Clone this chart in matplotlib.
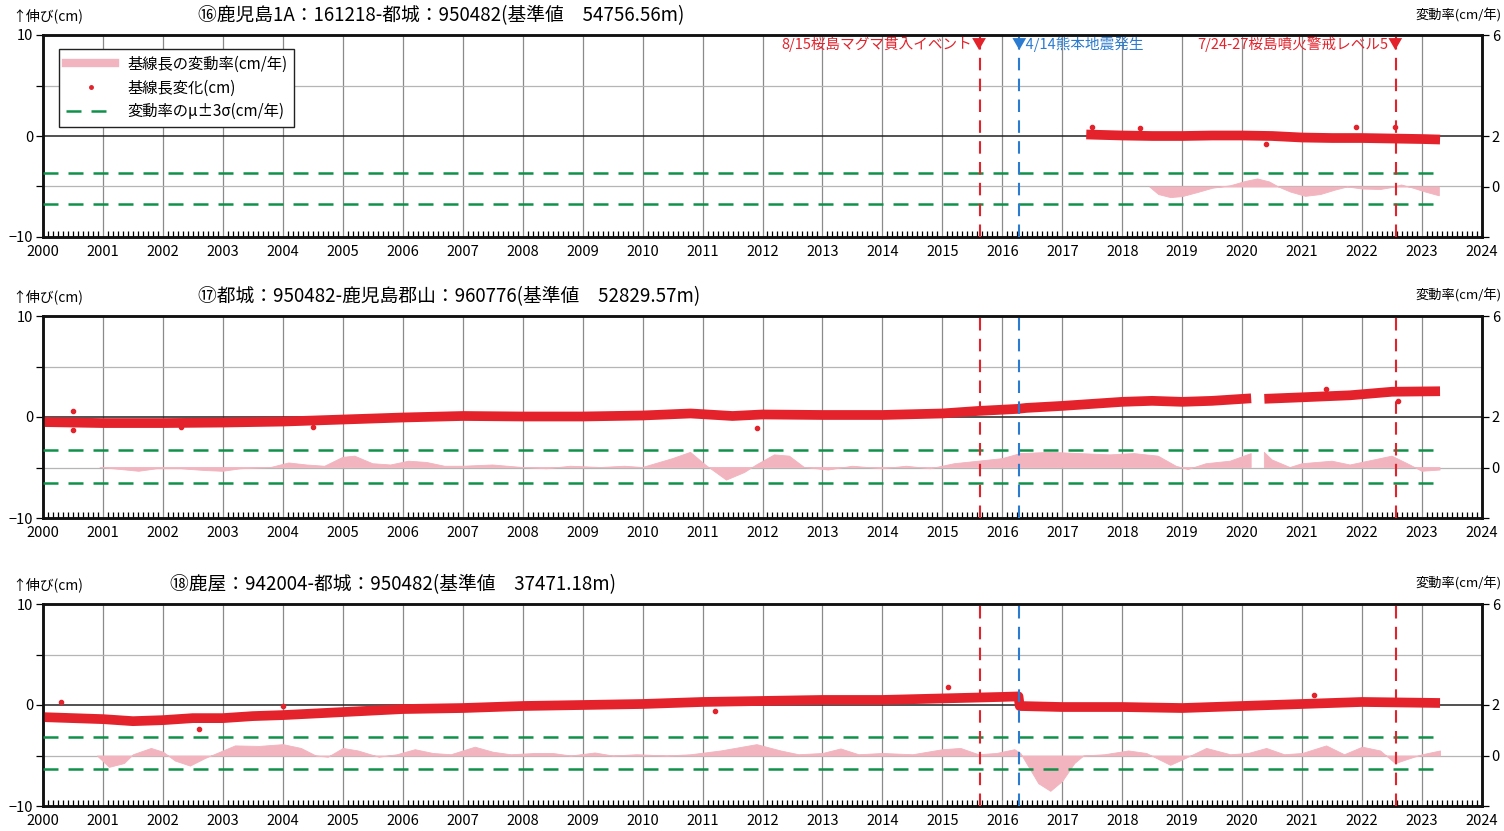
import numpy as np
import matplotlib
matplotlib.use("Agg")
import matplotlib.pyplot as plt
from matplotlib.lines import Line2D
from matplotlib.ticker import MultipleLocator
import matplotlib.transforms as mtransforms

plt.rcParams['font.family'] = ['Noto Sans CJK JP', 'DejaVu Sans']

# ---- data ----
years = list(range(2000, 2025))

# panel 16
p16_title = "⑯鹿児島1A：161218-都城：950482(基準値　54756.56m)"
p16_dot_t = [2017.4, 2017.7, 2018.0, 2018.5, 2019.0, 2019.5, 2020.0, 2020.5, 2021.0, 2021.5, 2022.0, 2022.5, 2023.0, 2023.3]
p16_dot_v = [0.15, 0.1, 0.05, 0.0, 0.0, 0.05, 0.05, 0.0, -0.15, -0.2, -0.2, -0.25, -0.3, -0.35]
p16_out_t = [2017.5, 2018.3, 2021.9, 2022.55, 2020.4]
p16_out_v = [0.9, 0.8, 0.9, 0.9, -0.8]
p16_rate_t = [2018.45, 2018.6, 2018.8, 2019.0, 2019.25, 2019.5, 2019.8, 2020.05, 2020.25, 2020.45, 2020.6, 2020.8,
              2021.05, 2021.3, 2021.55, 2021.75, 2022.0, 2022.3, 2022.5, 2022.65, 2022.85, 2023.05, 2023.28]
p16_rate_v = [0.0, -0.3, -0.42, -0.38, -0.22, -0.05, 0.05, 0.22, 0.32, 0.2, 0.0, -0.2,
              -0.37, -0.3, -0.12, 0.0, -0.08, -0.1, -0.02, 0.08, -0.05, -0.2, -0.35]
p16_sigma = [0.55, -0.7]

# panel 17
p17_title = "⑰都城：950482-鹿児島郡山：960776(基準値　52829.57m)"
p17_dot_t = [2000.0, 2001, 2002, 2003, 2004, 2005, 2006, 2007, 2008, 2009, 2010, 2010.8, 2011.5, 2012, 2013,
             2014, 2015, 2015.6, 2016.25, 2016.4, 2017, 2017.5, 2018, 2018.5, 2019, 2019.5, 2020.15,
             np.nan, 2020.37, 2021, 2021.8, 2022.5, 2023.3]
p17_dot_v = [-0.5, -0.6, -0.6, -0.55, -0.45, -0.25, -0.05, 0.1, 0.05, 0.05, 0.15, 0.35, 0.1, 0.25, 0.2,
             0.2, 0.35, 0.6, 0.8, 0.9, 1.1, 1.3, 1.5, 1.6, 1.5, 1.6, 1.85,
             np.nan, 1.8, 1.95, 2.15, 2.5, 2.55]
p17_out_t = [2000.5, 2000.5, 2002.3, 2004.5, 2011.9, 2021.4, 2022.6]
p17_out_v = [-1.3, 0.6, -1.0, -1.0, -1.1, 2.8, 1.6]
p17_rate_t = [2000.95, 2001.3, 2001.6, 2001.9, 2002.3, 2002.7, 2003.0, 2003.3, 2003.8, 2004.1, 2004.4, 2004.7,
              2005.0, 2005.2, 2005.5, 2005.8, 2006.1, 2006.4, 2006.7, 2007.0, 2007.5, 2008.0, 2008.4, 2008.8,
              2009.3, 2009.7, 2010.0, 2010.5, 2010.8, 2011.05, 2011.4, 2011.7, 2011.9, 2012.2, 2012.45, 2012.7,
              2013.1, 2013.5, 2014.0, 2014.4, 2014.8, 2015.2, 2015.6, 2016.0, 2016.3, 2016.8, 2017.3, 2017.8,
              2018.2, 2018.6, 2018.9, 2019.1, 2019.4, 2019.8, 2020.15, np.nan, 2020.37, 2020.5, 2020.8, 2021.0,
              2021.5, 2021.8, 2022.1, 2022.5, 2022.8, 2023.0, 2023.3]
p17_rate_v = [0.0, -0.08, -0.15, -0.05, -0.05, -0.12, -0.15, -0.05, 0.0, 0.18, 0.1, 0.05,
              0.4, 0.45, 0.15, 0.1, 0.25, 0.2, 0.05, 0.05, 0.1, 0.0, -0.05, 0.05,
              0.0, 0.05, 0.0, 0.35, 0.6, 0.1, -0.5, -0.2, 0.1, 0.5, 0.45, 0.0,
              -0.1, 0.05, -0.05, 0.05, -0.05, 0.15, 0.25, 0.35, 0.55, 0.6, 0.55, 0.5,
              0.55, 0.45, 0.05, -0.08, 0.15, 0.25, 0.55, np.nan, 0.6, 0.3, 0.0, 0.15,
              0.25, 0.1, 0.25, 0.45, 0.1, -0.15, -0.1]
p17_sigma = [0.68, -0.62]

# panel 18
p18_title = "⑱鹿屋：942004-都城：950482(基準値　37471.18m)"
p18_dot_t = [2000.0, 2000.5, 2001.0, 2001.5, 2002.0, 2002.5, 2003.0, 2003.5, 2004.0, 2005.0, 2006.0, 2007.0,
             2008.0, 2009.0, 2010.0, 2011.0, 2012.0, 2013.0, 2014.0, 2015.0, 2016.0, 2016.27,
             2016.29, 2017.0, 2018.0, 2019.0, 2020.0, 2021.0, 2022.0, 2023.3]
p18_dot_v = [-1.2, -1.3, -1.4, -1.6, -1.5, -1.3, -1.3, -1.1, -1.0, -0.7, -0.4, -0.3,
             -0.1, 0.0, 0.1, 0.3, 0.4, 0.5, 0.5, 0.65, 0.8, 0.85,
             -0.1, -0.2, -0.2, -0.3, -0.1, 0.1, 0.3, 0.2]
p18_out_t = [2000.3, 2002.6, 2011.2, 2015.1, 2004.0, 2021.2]
p18_out_v = [0.3, -2.4, -0.6, 1.8, -0.1, 1.0]
p18_rate_t = [2000.9, 2001.1, 2001.35, 2001.5, 2001.8, 2002.0, 2002.2, 2002.45, 2002.7, 2002.9, 2003.2, 2003.6,
              2004.0, 2004.3, 2004.55, 2004.75, 2005.0, 2005.25, 2005.6, 2005.9, 2006.2, 2006.5, 2006.8, 2007.2,
              2007.5, 2007.8, 2008.2, 2008.5, 2008.8, 2009.2, 2009.5, 2009.9, 2010.4, 2010.8, 2011.3, 2011.9,
              2012.3, 2012.6, 2013.0, 2013.3, 2013.6, 2014.0, 2014.5, 2015.0, 2015.3, 2015.6, 2015.9, 2016.2,
              2016.3, 2016.4, 2016.6, 2016.8, 2017.0, 2017.2, 2017.35, 2017.7, 2018.1, 2018.4, 2018.8, 2019.05,
              2019.4, 2019.8, 2020.1, 2020.4, 2020.7, 2021.0, 2021.4, 2021.7, 2022.0, 2022.3, 2022.55, 2022.8,
              2023.0, 2023.3]
p18_rate_v = [0.0, -0.45, -0.3, 0.05, 0.3, 0.15, -0.2, -0.4, -0.1, 0.1, 0.4, 0.38,
              0.45, 0.3, 0.0, -0.05, 0.3, 0.2, -0.05, 0.05, 0.25, 0.1, 0.05, 0.35,
              0.15, 0.05, 0.1, 0.1, 0.0, 0.12, 0.0, 0.05, 0.0, 0.05, 0.2, 0.45,
              0.2, 0.05, 0.1, 0.28, 0.05, 0.1, 0.05, 0.25, 0.3, 0.05, 0.1, 0.25,
              0.1, -0.3, -1.1, -1.4, -1.0, -0.3, 0.0, 0.05, 0.2, 0.1, -0.37, -0.1,
              0.3, 0.05, 0.1, 0.3, 0.05, 0.1, 0.4, 0.05, 0.35, 0.2, -0.3, -0.1,
              0.05, 0.2]
p18_sigma = [0.75, -0.55]

# events
ev_red = [2015.62, 2022.56]
ev_blue = [2016.28]

RED = '#e3222b'
PINK = '#f2b4be'
GREEN = '#10914a'

fig = plt.figure(figsize=(15.04, 8.31), dpi=100)


def panel(top_px, title, title_x, dot_t, dot_v, out_t, out_v, rate_t, rate_v, sigma, legend=False):
    bottom = 1 - (top_px + 202) / 831
    ax = fig.add_axes([43 / 1504, bottom, 1439 / 1504, 202 / 831])
    ax.set_xlim(2000, 2024)
    ax.set_ylim(-10, 10)
    ax2 = ax.twinx()
    ax2.set_ylim(-2, 6)

    # grid
    for y in years:
        ax.axvline(y, color='#8a8a8a', lw=0.9, zorder=0)
    ax.axhline(5, color='#b5b5b5', lw=0.9, zorder=0)
    ax.axhline(-5, color='#b5b5b5', lw=0.9, zorder=0)
    ax.axhline(0, color='#222222', lw=1.1, zorder=1)

    # baseline change
    ax.plot(dot_t, dot_v, color=RED, lw=7, solid_capstyle='butt', solid_joinstyle='round', zorder=3)
    ax.plot(out_t, out_v, 'o', color=RED, ms=3, zorder=3)

    # rate
    ax2.fill_between(rate_t, 0, rate_v, color=PINK, lw=0.6, edgecolor=PINK, zorder=2)
    for s in sigma:
        ax2.plot([2000, 2023.3], [s, s], color=GREEN, lw=1.8, dashes=(6, 4), zorder=3)

    # events
    for x in ev_red:
        ax2.axvline(x, color=RED, lw=1.5, dashes=(6, 4), zorder=4)
    for x in ev_blue:
        ax2.axvline(x, color='#2b7bd0', lw=1.5, dashes=(6, 4), zorder=4)

    # ticks
    ax.set_xticks(years)
    ax.set_xticklabels([str(y) for y in years], fontsize=10.5)
    ax.xaxis.set_minor_locator(MultipleLocator(1 / 12))
    ax.tick_params(axis='x', which='major', length=0, pad=6)
    ax.tick_params(axis='x', which='minor', direction='in', length=4, width=0.9)
    ax.set_yticks([-10, -5, 0, 5, 10])
    ax.set_yticklabels(['−10', '', '0', '', '10'], fontsize=10.5)
    ax.tick_params(axis='y', direction='out', length=5, width=0.9, pad=2)
    ax2.set_yticks([-2, 0, 2, 6])
    ax2.set_yticklabels(['', '0', '2', '6'], fontsize=10.5)
    ax2.tick_params(axis='y', direction='out', length=5, width=0.9, pad=2)
    for a in (ax, ax2):
        for sp in a.spines.values():
            sp.set_linewidth(1.8)
            sp.set_color('#111111')

    fig.text(title_x / 1504, 1 - (top_px - 19) / 831, title, fontsize=13.5, va='center', ha='left')
    fig.text(12 / 1504, 1 - (top_px - 19) / 831, "↑伸び(cm)", fontsize=10, va='center', ha='left')
    fig.text(1502 / 1504, 1 - (top_px - 20) / 831, "変動率(cm/年)", fontsize=9.5, va='center', ha='right')

    if legend:
        handles = [Line2D([], [], color=PINK, lw=6),
                   Line2D([], [], color=RED, marker='.', ms=5, ls='none'),
                   Line2D([], [], color=GREEN, lw=1.8, dashes=(6, 4))]
        labels = ["基線長の変動率(cm/年)", "基線長変化(cm)", "変動率のμ±3σ(cm/年)"]
        lg = ax2.legend(handles, labels, loc='upper left', bbox_to_anchor=(0.006, 0.97), fontsize=11,
                        fancybox=False, framealpha=1, edgecolor='#222222', handlelength=3.2,
                        borderpad=0.45, labelspacing=0.45)
        lg.get_frame().set_linewidth(1.0)
        lg.set_zorder(10)

        trans = mtransforms.blended_transform_factory(ax.transData, ax.transAxes)
        ax.text(ev_red[0] + 0.12, 0.955, "8/15桜島マグマ貫入イベント▼", color=RED, fontsize=10.5,
                ha='right', va='center', transform=trans)
        ax.text(ev_blue[0] - 0.12, 0.955, "▼4/14熊本地震発生", color='#2b7bd0', fontsize=10.5,
                ha='left', va='center', transform=trans)
        ax.text(ev_red[1] + 0.12, 0.955, "7/24-27桜島噴火警戒レベル5▼", color=RED, fontsize=10.5,
                ha='right', va='center', transform=trans)
    return ax


panel(35, p16_title, 198, p16_dot_t, p16_dot_v, p16_out_t, p16_out_v, p16_rate_t, p16_rate_v, p16_sigma, legend=True)
panel(316, p17_title, 198, p17_dot_t, p17_dot_v, p17_out_t, p17_out_v, p17_rate_t, p17_rate_v, p17_sigma)
panel(604, p18_title, 170, p18_dot_t, p18_dot_v, p18_out_t, p18_out_v, p18_rate_t, p18_rate_v, p18_sigma)

fig.savefig("out.png", dpi=100)
